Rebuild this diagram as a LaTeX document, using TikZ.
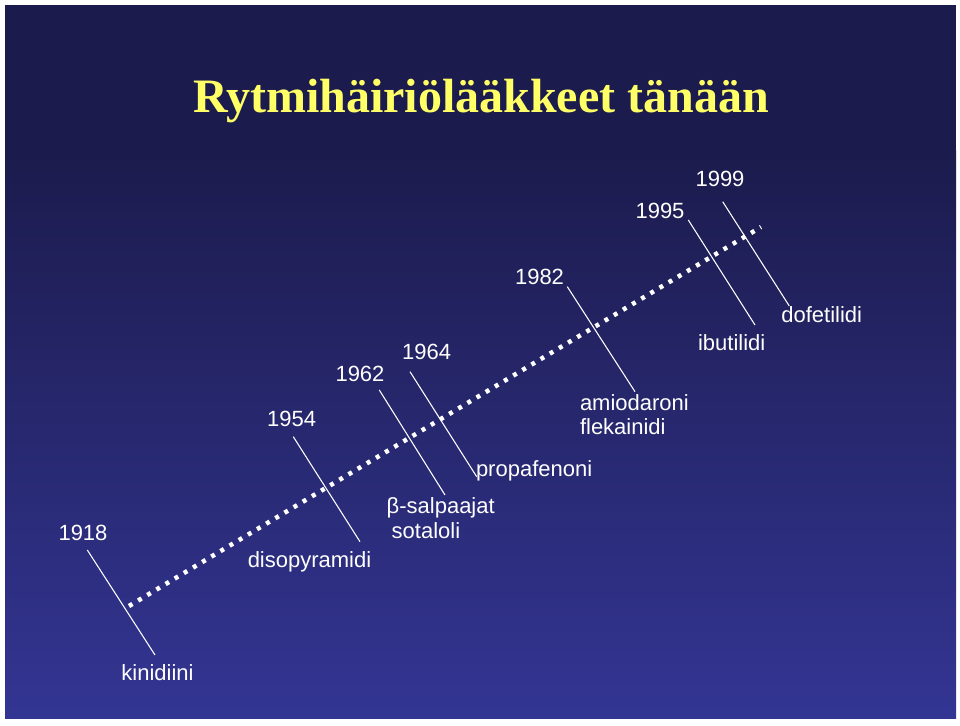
\documentclass[tikz,border=0pt]{standalone}
\usepackage{fontspec}
\setmainfont{Liberation Serif}
\setsansfont{Liberation Sans}
\usepackage{tikz}
\definecolor{slidetop}{RGB}{28,27,77}
\definecolor{slidebottom}{RGB}{51,53,147}
\definecolor{titleyellow}{RGB}{255,255,102}

\begin{document}
\begin{tikzpicture}[x=0.75pt, y=-0.75pt,
  every node/.style={text=white, inner sep=0pt, outer sep=0pt, font=\sffamily\fontsize{16.5}{18}\selectfont},
  year/.style={anchor=base},
  drug/.style={anchor=base},
  drugleft/.style={anchor=base west},
  tick/.style={draw=white, line width=0.8pt}]
\useasboundingbox (0,0) rectangle (960,725);
\fill[white] (0,0) rectangle (960,725);
\fill[slidetop] (5,5) rectangle (956,150);
\shade[top color=slidetop, bottom color=slidebottom] (5,150) rectangle (956,718);

\node[font=\rmfamily\bfseries\fontsize{36}{40}\selectfont, text=titleyellow, anchor=base] (title) at (481,112) {Rytmihäiriölääkkeet tänään};

\coordinate (t0) at (129,606);
\coordinate (t1) at (761,227);
\draw[white, line width=3.4pt, dash pattern=on 3pt off 5pt] (t0) -- (t1);

\node[year] (y1918) at (83,540) {1918};
\node[drug] (kinidiini) at (157.5,680) {kinidiini};
\node[year] (y1954) at (291.7,426.7) {1954};
\node[drug] (disopyramidi) at (309.5,567) {disopyramidi};
\node[year] (y1962) at (360,381.7) {1962};
\node[drugleft] (salpaajat) at (386.7,513.3) {β-salpaajat};
\node[drugleft] (sotaloli) at (391.7,538) {sotaloli};
\node[year] (y1964) at (426.7,359.3) {1964};
\node[drugleft] (propafenoni) at (476,476.7) {propafenoni};
\node[year] (y1982) at (539.5,284.3) {1982};
\node[drugleft] (amiodaroni) at (580,410) {amiodaroni};
\node[drugleft] (flekainidi) at (580,434) {flekainidi};
\node[year] (y1995) at (660,218.3) {1995};
\node[drug] (ibutilidi) at (731.7,350) {ibutilidi};
\node[year] (y1999) at (720,186.7) {1999};
\node[drug] (dofetilidi) at (821.7,322.3) {dofetilidi};

\draw[tick] ([shift={(4.3,10)}]y1918.base) -- ([shift={(-2.5,-25)}]kinidiini.base);
\draw[tick] ([shift={(1.6,10)}]y1954.base) -- ([shift={(50.5,-25.3)}]disopyramidi.base);
\draw[tick] ([shift={(19.3,8.3)}]y1962.base) -- ([shift={(58.3,-18.3)}]salpaajat.base west);
\draw[tick] ([shift={(-16.7,12.4)}]y1964.base) -- ([shift={(0.7,0)}]propafenoni.base west);
\draw[tick] ([shift={(27.8,2.4)}]y1982.base) -- ([shift={(55,-18.3)}]amiodaroni.base west);
\draw[tick] ([shift={(28.3,1.7)}]y1995.base) -- ([shift={(23.3,-25)}]ibutilidi.base);
\draw[tick] ([shift={(2.7,15)}]y1999.base) -- ([shift={(-32.4,-16.3)}]dofetilidi.base);
\end{tikzpicture}
\end{document}
